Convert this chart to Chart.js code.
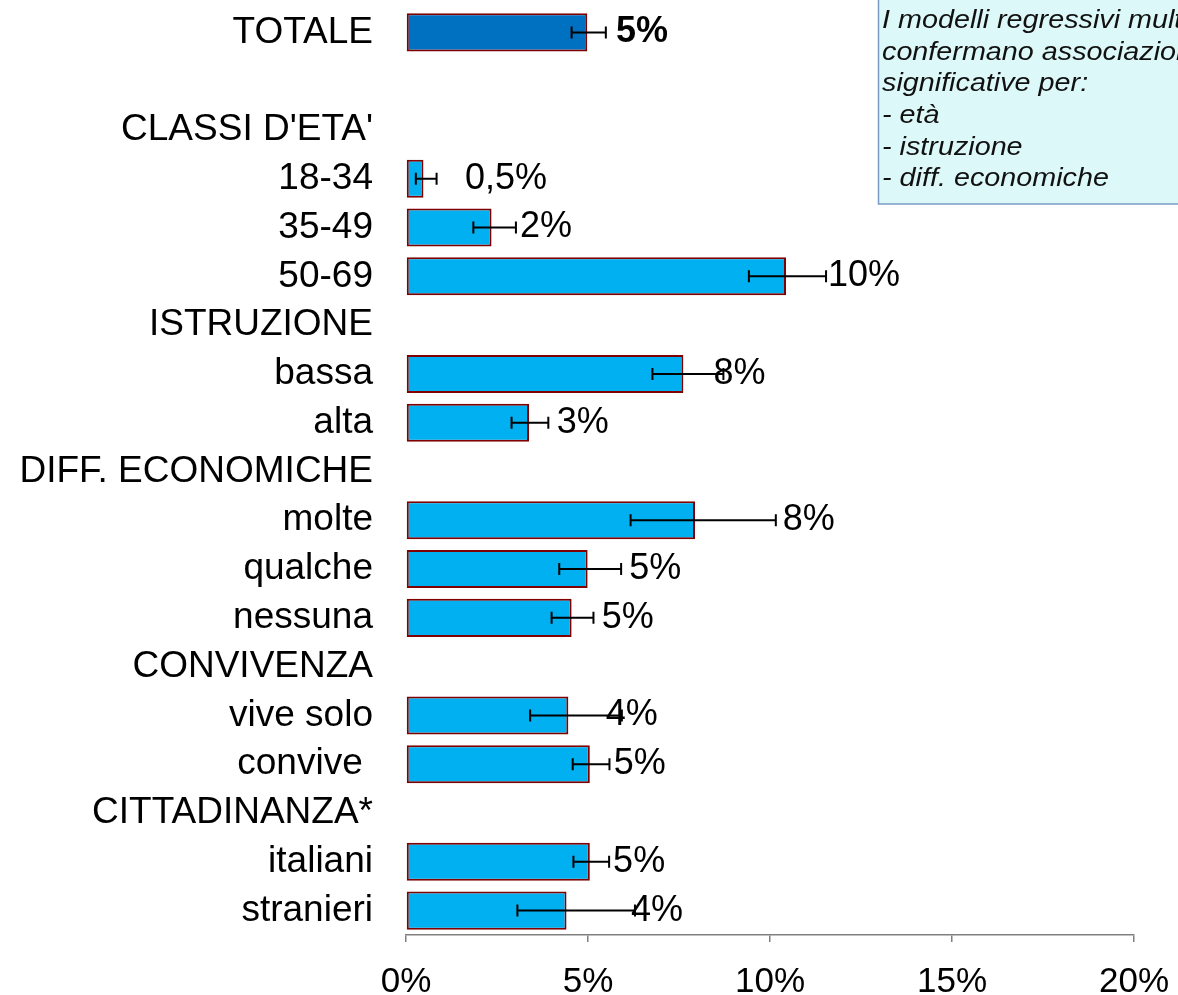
<!DOCTYPE html>
<html>
<head>
<meta charset="utf-8">
<script src="https://cdn.jsdelivr.net/npm/chart.js@4.4.1/dist/chart.umd.min.js"></script>
<style>
  html, body { margin: 0; padding: 0; background: #fff; }
  #wrap { width: 1178px; height: 995px; position: relative; }
</style>
</head>
<body>
<div id="wrap"><canvas id="chart"></canvas></div>
<script>
// rows top to bottom; headers have no bar
const categories = ['TOTALE', '', "CLASSI D'ETA'", '18-34', '35-49', '50-69', 'ISTRUZIONE', 'bassa', 'alta',
  'DIFF. ECONOMICHE', 'molte', 'qualche', 'nessuna', 'CONVIVENZA', 'vive solo', 'convive ', 'CITTADINANZA*', 'italiani', 'stranieri'];
const values   = [4.98, null, null, 0.48, 2.35, 10.44, null, 7.62, 3.38, null, 7.94, 4.99, 4.55, null, 4.46, 5.05, null, 5.05, 4.41];
const errLow   = [4.55, null, null, 0.27, 1.85, 9.42, null, 6.77, 2.90, null, 6.17, 4.21, 4.00, null, 3.41, 4.58, null, 4.60, 3.06];
const errHigh  = [5.49, null, null, 0.84, 3.02, 11.54, null, 8.72, 3.91, null, 10.16, 5.91, 5.15, null, 5.93, 5.59, null, 5.58, 6.29];
const valueLabels = ['5%', null, null, '0,5%', '2%', '10%', null, '8%', '3%', null, '8%', '5%', '5%', null, '4%', '5%', null, '5%', '4%'];
// where each value label starts, in % on the value axis
const labelAt  = [5.77, null, null, 1.62, 3.13, 11.59, null, 8.45, 4.14, null, 10.35, 6.13, 5.38, null, 5.49, 5.71, null, 5.69, 6.18];
const xTicks = [0, 5, 10, 15, 20];
const noteLines = ['I modelli regressivi multivariati', 'confermano associazioni', 'significative per:', '- età', '- istruzione', '- diff. economiche'];

const FONT = "'Liberation Sans', Arial, sans-serif";

// ── error bars + value labels ────────────────────────────────────────────────
const errorBars = {
  id: 'errorBars',
  afterDatasetsDraw(chart) {
    const { ctx, scales: { x, y } } = chart;
    ctx.save();
    ctx.strokeStyle = '#000';
    ctx.lineWidth = 2;
    errLow.forEach((lo, i) => {
      if (lo == null) return;
      const cy = y.getPixelForValue(i);
      const x1 = x.getPixelForValue(lo), x2 = x.getPixelForValue(errHigh[i]);
      ctx.beginPath();
      ctx.moveTo(x1, cy); ctx.lineTo(x2, cy);
      ctx.moveTo(x1, cy - 6); ctx.lineTo(x1, cy + 6);
      ctx.moveTo(x2, cy - 6); ctx.lineTo(x2, cy + 6);
      ctx.stroke();
    });
    ctx.fillStyle = '#000';
    ctx.textAlign = 'left';
    ctx.textBaseline = 'middle';
    valueLabels.forEach((t, i) => {
      if (!t) return;
      ctx.font = (i === 0 ? 'bold ' : '') + '36px ' + FONT;
      ctx.fillText(t, x.getPixelForValue(labelAt[i]), y.getPixelForValue(i));
    });
    ctx.restore();
  }
};

// ── note box top right ───────────────────────────────────────────────────────
const noteBox = {
  id: 'noteBox',
  afterDraw(chart) {
    const ctx = chart.ctx;
    ctx.save();
    ctx.fillStyle = '#DDF8F8';
    ctx.strokeStyle = '#7A9CC4';
    ctx.lineWidth = 1.5;
    ctx.fillRect(878, -2, 320, 206);
    ctx.strokeRect(878.5, -2, 320, 206);
    ctx.fillStyle = '#111';
    ctx.font = 'italic 25px ' + FONT;
    ctx.textAlign = 'left';
    ctx.textBaseline = 'middle';
    ctx.translate(882, 0);
    ctx.scale(1.15, 1);
    noteLines.forEach((l, i) => ctx.fillText(l, 0, 21 + i * 31.7));
    ctx.restore();
  }
};

document.addEventListener('DOMContentLoaded', () => {
  const ctx = document.getElementById('chart').getContext('2d');
  new Chart(ctx, {
    type: 'bar',
    data: {
      labels: categories,
      datasets: [{
        data: values,
        backgroundColor: values.map((v, i) => i === 0 ? '#0070C0' : '#00B0F0'),
        borderColor: '#800000',
        borderWidth: 2,
        borderSkipped: false,
        barPercentage: 0.78,
        categoryPercentage: 1
      }]
    },
    options: {
      indexAxis: 'y',
      responsive: true, maintainAspectRatio: false,
      animation: false,
      layout: { padding: { top: 8, right: 44, bottom: 0, left: 0 } },
      plugins: { legend: { display: false }, tooltip: { enabled: false } },
      scales: {
        x: {
          min: 0, max: 20,
          afterBuildTicks: s => { s.ticks = xTicks.map(v => ({ value: v })); },
          afterFit: s => { s.height = 60; s.paddingLeft = 0; s.paddingRight = 0; },
          grid: { display: true, drawOnChartArea: false, drawTicks: true, tickLength: 7, color: '#808080', lineWidth: 1.5 },
          border: { display: true, color: '#808080', width: 1.5 },
          ticks: { color: '#000', padding: 19, font: { family: FONT, size: 35 }, callback: v => v + '%' }
        },
        y: {
          afterFit: s => { s.width = 406; s.paddingTop = 0; s.paddingBottom = 0; },
          grid: { display: false, drawTicks: false },
          border: { display: false },
          ticks: { color: '#000', padding: 33, autoSkip: false, font: { family: FONT, size: 37 } }
        }
      }
    },
    plugins: [errorBars, noteBox]
  });
});
</script>
</body>
</html>
